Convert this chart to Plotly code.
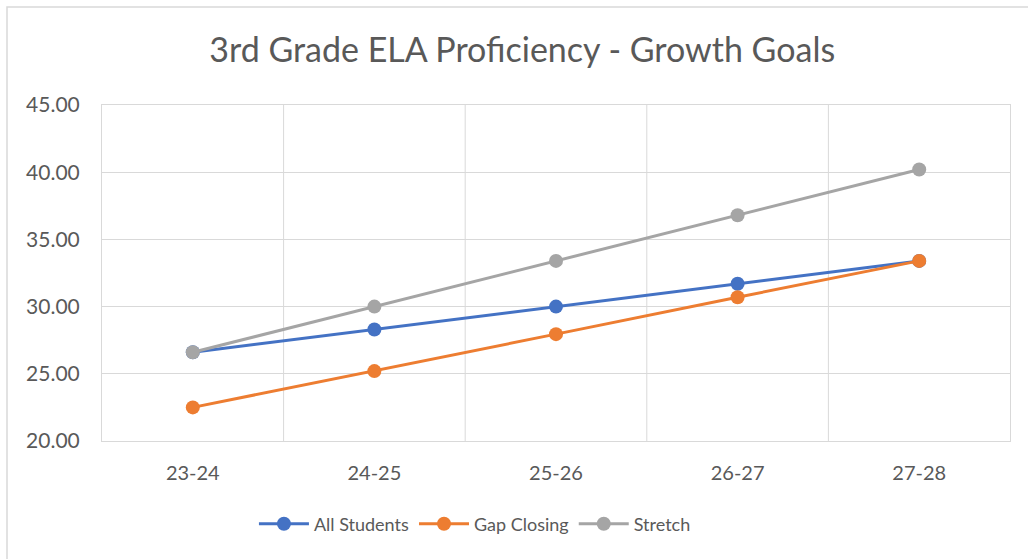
import plotly.graph_objects as go

# ── Data ──
years = ["23-24", "24-25", "25-26", "26-27", "27-28"]
all_students = [26.6, 28.3, 30.0, 31.7, 33.4]
gap_closing = [22.5, 25.2, 27.95, 30.7, 33.4]
stretch = [26.6, 30.0, 33.4, 36.8, 40.2]

y_ticks = [20, 25, 30, 35, 40, 45]

BLUE = "#4472C4"
ORANGE = "#ED7D31"
GRAY = "#A5A5A5"
TEXT = "#595959"
GRID = "#D9D9D9"
FONT = "Lato, 'Open Sans', sans-serif"

fig = go.Figure()
for name, vals, col in [
    ("All Students", all_students, BLUE),
    ("Gap Closing", gap_closing, ORANGE),
    ("Stretch", stretch, GRAY),
]:
    fig.add_trace(go.Scatter(
        x=years, y=vals, name=name, mode="lines+markers",
        line=dict(color=col, width=3),
        marker=dict(color=col, size=14),
    ))

# plot area: x 102..1010, y 105..441 (px)
fig.update_layout(
    width=1028, height=559,
    margin=dict(l=102, r=18, t=105, b=118),
    paper_bgcolor="white", plot_bgcolor="white",
    font=dict(family=FONT, color=TEXT, size=18),
    title=dict(
        text="3rd Grade ELA Proficiency - Growth Goals",
        x=0.508, xref="container", xanchor="center",
        y=1 - 50 / 559, yref="container", yanchor="middle",
        font=dict(size=34, color=TEXT, family=FONT),
    ),
    legend=dict(
        orientation="h", xref="container", yref="container",
        x=0.462, xanchor="center", y=1 - 524 / 559, yanchor="middle",
        font=dict(size=18, color=TEXT), itemwidth=50,
    ),
    showlegend=True,
)

fig.update_xaxes(
    type="category", range=[-0.5, 4.5],
    showgrid=False,
    showline=True, linecolor=GRID, linewidth=1, mirror=True,
    ticks="", ticklabelstandoff=14,
    tickfont=dict(size=20, color=TEXT),
)
fig.update_yaxes(
    range=[20, 45], tickvals=y_ticks, tickformat=".2f",
    showgrid=True, gridcolor=GRID, gridwidth=1,
    showline=True, linecolor=GRID, linewidth=1, mirror=True,
    ticks="", ticklabelstandoff=17, zeroline=False,
    tickfont=dict(size=21, color=TEXT),
)

# category gridlines sit between categories
for i in range(1, 5):
    fig.add_shape(type="line", xref="x", yref="paper",
                  x0=i - 0.5, x1=i - 0.5, y0=0, y1=1,
                  line=dict(color=GRID, width=1), layer="below")

# outer chart border
fig.add_shape(type="rect", xref="paper", yref="paper",
              x0=(7 - 102) / 908, x1=(1030 - 102) / 908,
              y0=(441 - 565) / 336, y1=(441 - 7) / 336,
              line=dict(color=GRID, width=1.5))

fig.write_html("out.html", config={"displayModeBar": False},
               post_script="document.body.style.margin='0';")
